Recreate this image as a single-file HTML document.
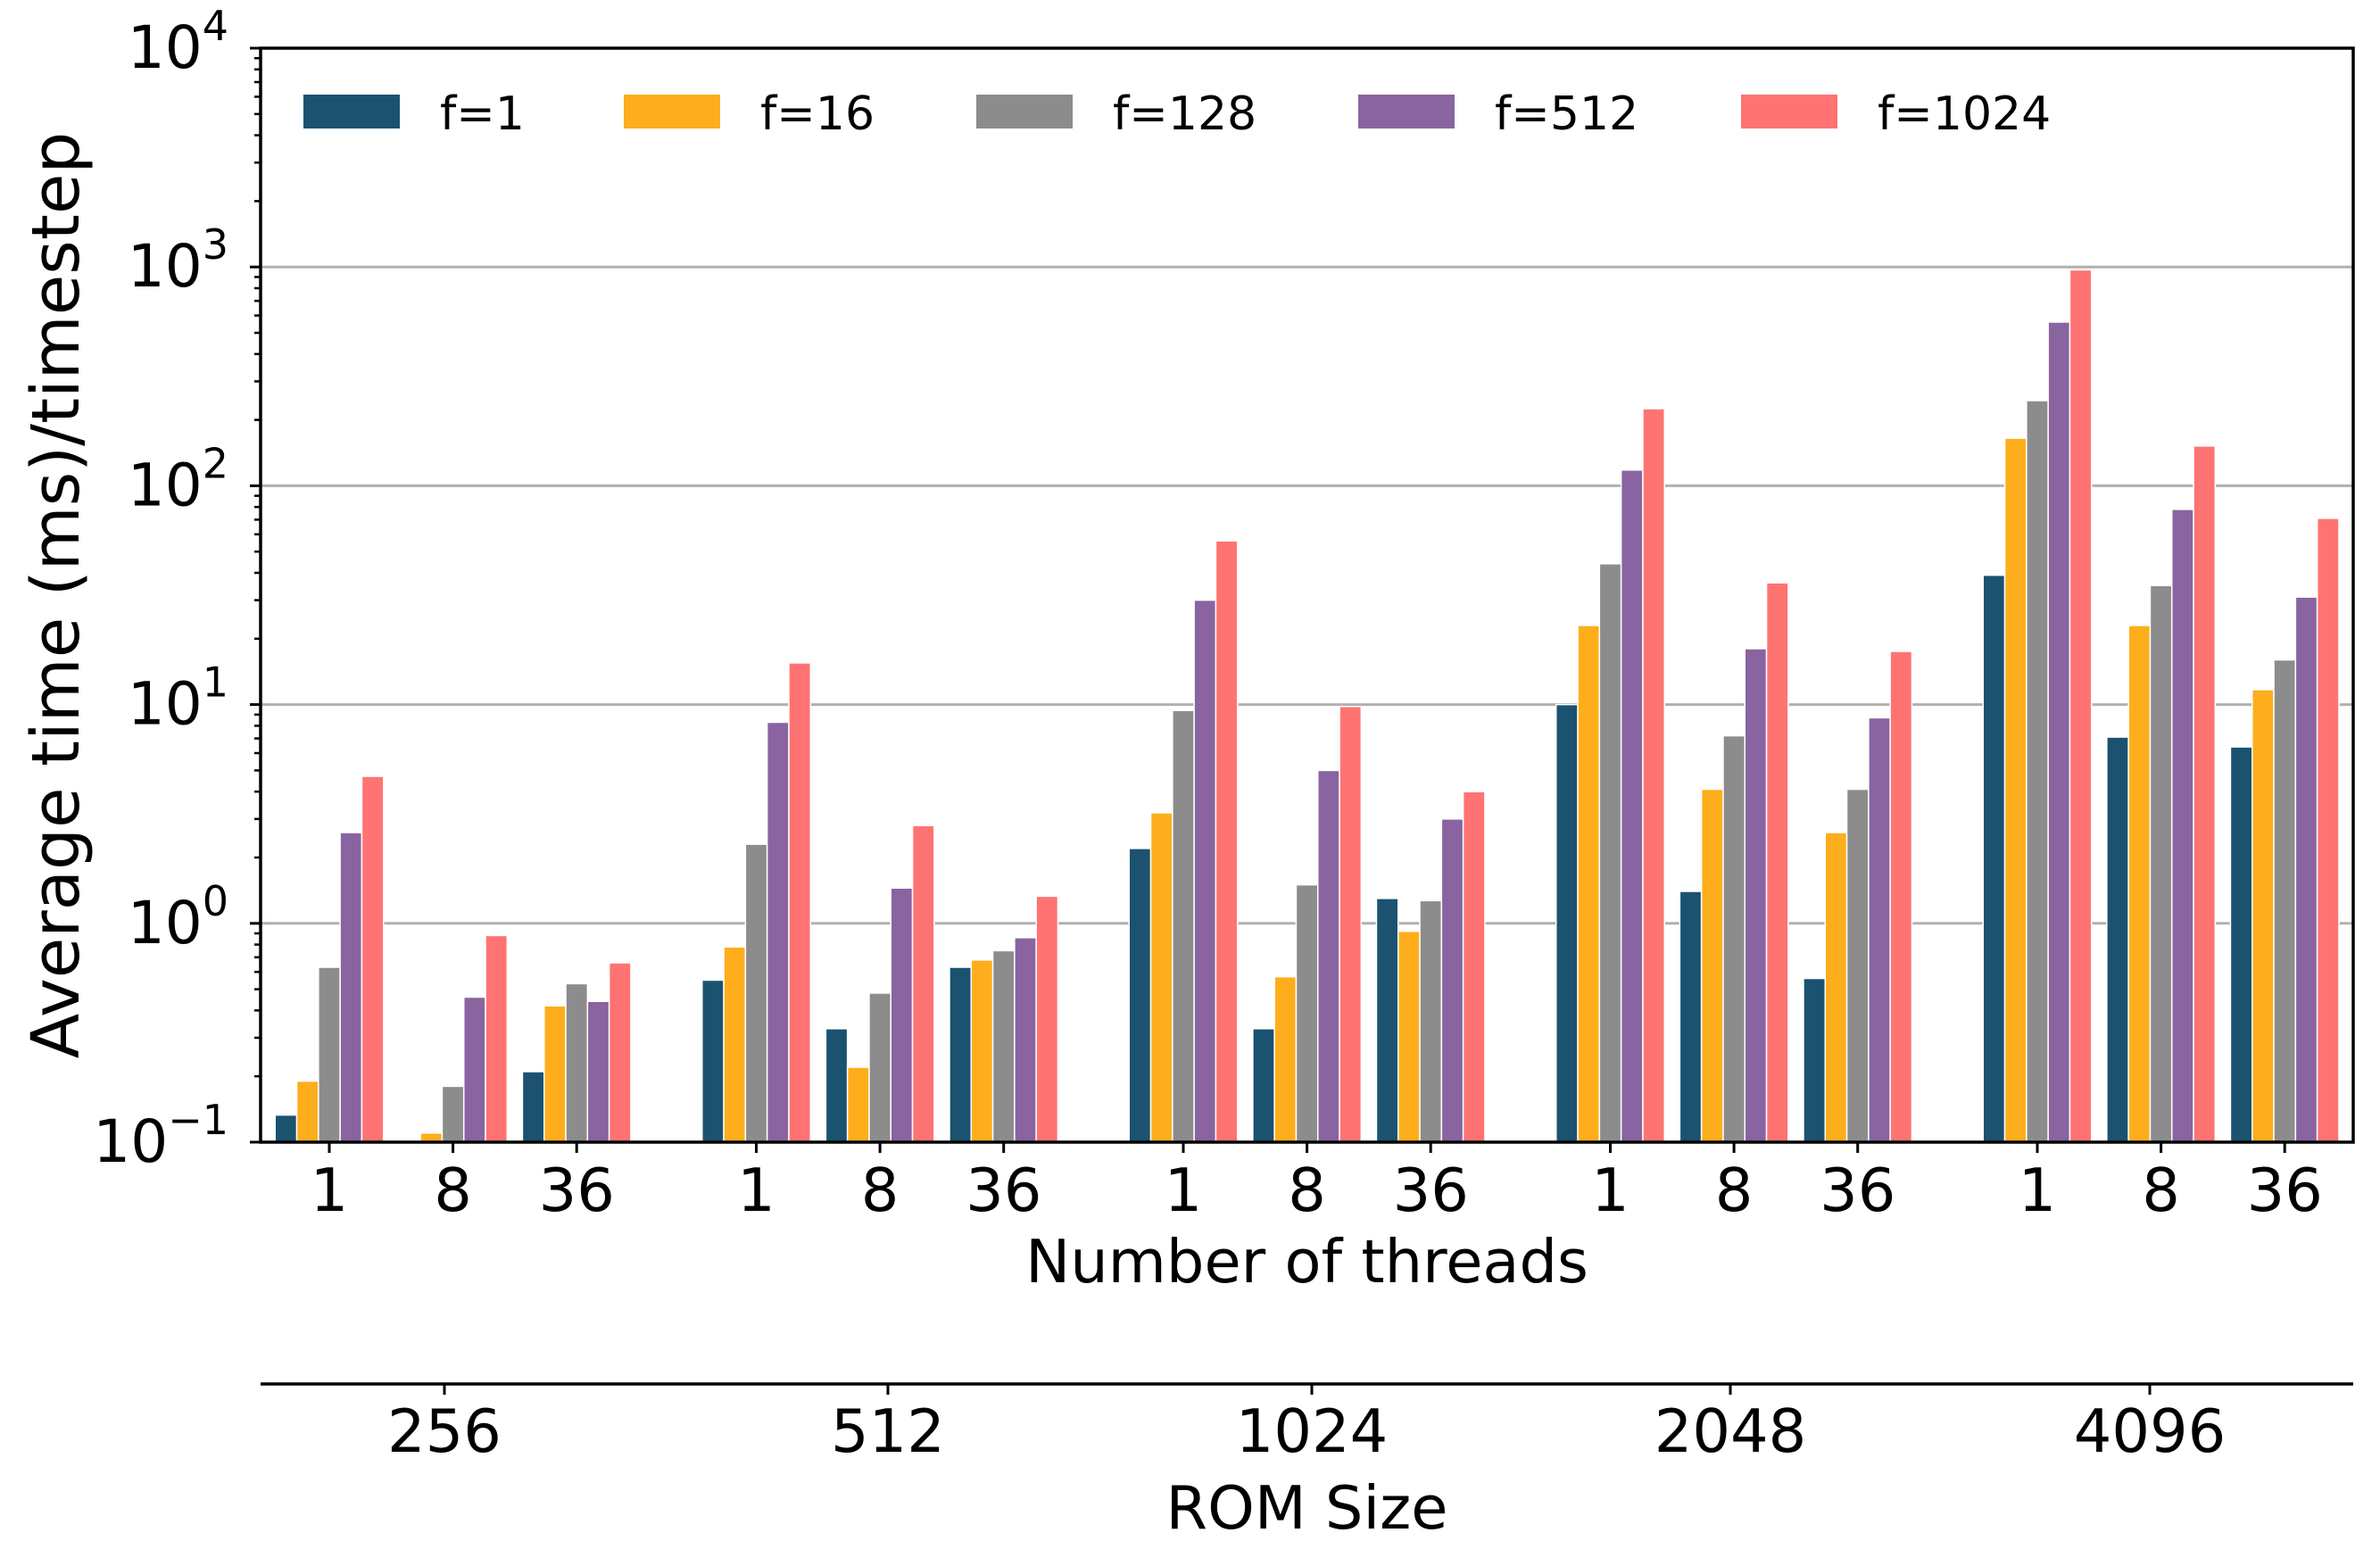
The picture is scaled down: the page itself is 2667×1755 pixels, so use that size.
<!DOCTYPE html>
<html><head><meta charset="utf-8"><style>
html,body{margin:0;padding:0;background:#fff}
svg{display:block;font-family:"DejaVu Sans","Liberation Sans",sans-serif}
</style></head><body>
<svg id="chart" width="2667" height="1755" viewBox="0 0 2667 1755" xmlns="http://www.w3.org/2000/svg">
<rect width="2667" height="1755" fill="#fff"/>
<g id="grid"></g><g id="bars"></g><g id="axes"></g><g id="legend"></g>
</svg>
<script>
const romSizes = ["256","512","1024","2048","4096"];
const threads = ["1","8","36"];
const seriesNames = ["f=1","f=16","f=128","f=512","f=1024"];
const f1 =    [0.133,0.09,0.21, 0.55,0.33,0.63, 2.2,0.33,1.3, 10,1.4,0.56, 39,7.1,6.4];
const f16 =   [0.19,0.11,0.42, 0.78,0.22,0.68, 3.2,0.57,0.92, 23,4.1,2.6, 165,23,11.7];
const f128 =  [0.63,0.18,0.53, 2.3,0.48,0.75, 9.4,1.5,1.27, 44,7.2,4.1, 245,35,16];
const f512 =  [2.6,0.46,0.44, 8.3,1.45,0.86, 30,5.0,3.0, 118,18,8.7, 560,78,31];
const f1024 = [4.7,0.88,0.66, 15.5,2.8,1.33, 56,9.8,4.0, 225,36,17.5, 970,152,71];
const yTickExps = [-1,0,1,2,3,4];

const series=[f1,f16,f128,f512,f1024];
const colors=["#1b5270","#feae1c","#8c8c8c","#8964a0","#ff7373"];
const romTickX=[498,995,1470,1939,2409];
const L=292,R=2637,T=54,B=1280,NS="http://www.w3.org/2000/svg";
const ymin=-1,ymax=4;
function y(v){return B-(Math.log10(v)-ymin)/(ymax-ymin)*(B-T);}
function xTick(i){const g=Math.floor(i/3),k=i%3;return 369+g*478.5+k*138.6;}
const bw=24.3;
function el(tag,attrs,parent,txt){const e=document.createElementNS(NS,tag);for(const k in attrs)e.setAttribute(k,attrs[k]);if(txt!==undefined)e.textContent=txt;parent.appendChild(e);return e;}
const grid=document.getElementById('grid'),barsG=document.getElementById('bars'),axes=document.getElementById('axes'),leg=document.getElementById('legend');
yTickExps.forEach(e=>{
  const yy=y(Math.pow(10,e));
  if(e>ymin&&e<ymax){const g=el('line',{x1:L,x2:R,y1:yy,y2:yy,stroke:'#b0b0b0','stroke-width':3},grid);
    }
  el('line',{x1:L-12,x2:L,y1:yy,y2:yy,stroke:'#000','stroke-width':3},axes);
  const t=el('text',{x:256,y:yy+22,'font-size':66,'text-anchor':'end'},axes);
  
  const a=document.createElementNS(NS,'tspan');a.textContent='10';t.appendChild(a);
  const b=document.createElementNS(NS,'tspan');b.setAttribute('font-size','46');b.setAttribute('dy','-31');b.textContent=(e<0?'\u2212':'')+Math.abs(e);t.appendChild(b);
  if(e<ymax){for(let m=2;m<=9;m++){const my=y(m*Math.pow(10,e));el('line',{x1:L-7,x2:L,y1:my,y2:my,stroke:'#000','stroke-width':2.5},axes);}}
});
for(let i=0;i<f1.length;i++){
  const cx=xTick(i);
  series.forEach((s,j)=>{
    const top=Math.max(y(s[i]),T);const x0=cx+(j-2.5)*bw;
    if(top<B){const r=el('rect',{x:x0,y:top,width:bw,height:B-top,fill:colors[j],stroke:'#fff','stroke-width':1.5},barsG);
      
      }
  });
  el('line',{x1:cx,x2:cx,y1:B,y2:B+12,stroke:'#000','stroke-width':3},axes);
  const t=el('text',{x:cx,y:1357,'font-size':67,'text-anchor':'middle'},axes,threads[i%3]);
  
}
const fr=el('rect',{x:L,y:T,width:R-L,height:B-T,fill:'none',stroke:'#000','stroke-width':3.5},axes);

const sa=el('line',{x1:L,x2:R,y1:1551,y2:1551,stroke:'#000','stroke-width':3.5},axes);

romSizes.forEach((r,g)=>{const cx=romTickX[g];
  el('line',{x1:cx,x2:cx,y1:1551,y2:1563,stroke:'#000','stroke-width':3},axes);
  const t=el('text',{x:cx,y:1627,'font-size':67,'text-anchor':'middle'},axes,r);
  });
let t=el('text',{x:(L+R)/2,y:1437,'font-size':67,'text-anchor':'middle'},axes,'Number of threads');

t=el('text',{x:(L+R)/2,y:1713,'font-size':67,'text-anchor':'middle'},axes,'ROM Size');

t=el('text',{x:0,y:0,'font-size':74,'text-anchor':'middle',transform:'translate(88,'+((T+B)/2)+') rotate(-90)'},axes,'Average time (ms)/timestep');

const sw=[340,699,1094,1522,1951];
seriesNames.forEach((n,j)=>{
  const g=el('g',{},leg);
  
  el('rect',{x:sw[j],y:106,width:108,height:38,fill:colors[j]},g);
  el('text',{x:sw[j]+153,y:145,'font-size':52},g,n);
});
</script>
</body></html>
